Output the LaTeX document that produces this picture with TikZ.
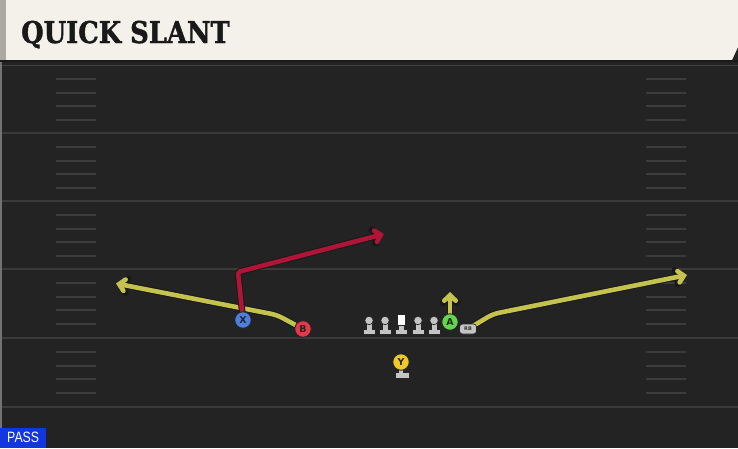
\documentclass[tikz,border=0pt]{standalone}
\usepackage{fontspec}
\setmainfont{DejaVu Sans}
\newfontfamily\titlefont{DejaVu Serif}[BoldFeatures={FakeBold=1.5}]
\newfontfamily\passfont{Liberation Sans}
\usetikzlibrary{arrows.meta}
\definecolor{field}{HTML}{232323}
\definecolor{cream}{HTML}{F4F1EA}
\definecolor{headgray}{HTML}{A9A9A2}
\definecolor{yardc}{HTML}{3A3A3A}
\definecolor{hashc}{HTML}{3C3C3C}
\definecolor{routey}{HTML}{C6C24E}
\definecolor{router}{HTML}{B01436}
\definecolor{xblue}{HTML}{4C7FE0}
\definecolor{bred}{HTML}{E23A48}
\definecolor{agreen}{HTML}{62D64C}
\definecolor{yyellow}{HTML}{F0C82A}
\definecolor{lmgray}{HTML}{C4C4C4}
\definecolor{passblue}{HTML}{1236E0}
\pgfdeclarelayer{bg}
\pgfdeclarelayer{routes}
\pgfsetlayers{bg,routes,main}
\tikzset{
  yardline/.style={draw=yardc, line width=1.6pt},
  hashline/.style={draw=hashc, line width=1.3pt},
  player/.style={circle, minimum size=16.5pt, inner sep=0pt, draw=black!85, line width=0.9pt,
    font=\bfseries\fontsize{9.5}{9.5}\selectfont, text=black!85},
  lmhead/.style={circle, minimum size=8.5pt, inner sep=0pt, fill=lmgray, draw=black!85, line width=0.7pt},
  lmbase/.style={fill=lmgray, draw=black!85, line width=0.6pt},
  routeout/.style={draw=black!90, line width=6.6pt, line cap=round, line join=round,
    -{Straight Barb[length=6.5pt,width=14pt,line cap=round]}},
  routeyel/.style={draw=routey, line width=4.6pt, line cap=round, line join=round,
    -{Straight Barb[length=5.5pt,width=11.5pt,line cap=round]}},
  routered/.style={draw=router, line width=4.6pt, line cap=round, line join=round,
    -{Straight Barb[length=5.5pt,width=11.5pt,line cap=round]}},
}
\begin{document}
\begin{tikzpicture}[x=1pt,y=-1pt]
\useasboundingbox (0,0) rectangle (738,448);
\begin{pgfonlayer}{bg}
\fill[field] (0,0) rectangle (738,448);
\fill[black!55] (0,62) rectangle (2,448);
% header
\fill[headgray] (0,0) rectangle (7,61);
\fill[cream] (6,0) -- (738,0) -- (738,47) -- (732,60) -- (6,60) -- cycle;
\draw[black!90, line width=1.5pt] (0,61) -- (738,61);
\draw[draw=black!75!white, line width=1pt] (2,65) -- (738,65);
% yard lines
\foreach \y in {133,201,269,338,407} \draw[yardline] (2,\y) -- (738,\y);
% hashes
\foreach \s in {65,133,201,269,338} {
  \foreach \o in {14,28,41,55} {
    \draw[hashline] (56,\s+\o) -- (96,\s+\o);
    \draw[hashline] (646,\s+\o) -- (686,\s+\o);
  }
}
\end{pgfonlayer}
\node[anchor=base west, inner sep=0pt, text=black!90] (title) at (21,43)
  {\scalebox{0.86}[1]{\titlefont\bfseries\fontsize{30}{30}\selectfont QUICK SLANT}};
% PASS label
\node[fill=passblue, anchor=south west, minimum width=46pt, minimum height=20pt, inner sep=0pt,
  text=white, font=\passfont\fontsize{15}{15}\selectfont] (pass) at (0,448) {\scalebox{0.82}[1]{PASS}};

% players
\node[player, fill=xblue] (X) at (243,320) {X};
\node[player, fill=bred] (B) at (303,329) {B};
\node[player, fill=agreen] (A) at (450,322) {A};
% Y with stand
\fill[lmgray, draw=black!85, line width=0.6pt] (395,372) rectangle (409,378);
\fill[lmgray] (399,367) rectangle (403,373);
\node[player, fill=yyellow] (Y) at (401,362) {Y};
% RB
\node[fill=lmgray, draw=black!85, line width=0.7pt, rounded corners=3pt, minimum width=17pt, minimum height=10pt,
  inner sep=0pt, font=\bfseries\fontsize{5}{5}\selectfont, text=black!80] (RB) at (468,329) {RB};
% linemen
\foreach \nm/\x in {lt/369,lg/385,rg/418,rt/434} {
  \path[lmbase] (\x-6,329) rectangle (\x+6,334.5);
  \fill[lmgray] (\x-2.5,322) rectangle (\x+2.5,329.5);
  \node[lmhead] (\nm) at (\x,320.5) {};
}
\path[lmbase] (395.5,329) rectangle (407.5,334.5);
\fill[lmgray] (399,324) rectangle (404,329.5);
\node[fill=white, draw=black!85, line width=0.7pt, minimum width=8.5pt, minimum height=11pt, inner sep=0pt] (C) at (401.5,320) {};

% route points
\coordinate (bk) at (277,315);
\coordinate (bend) at (116,283.5);
\coordinate (xk) at (238,272);
\coordinate (xend) at (384,234);
\coordinate (aend) at (450,292);
\coordinate (rk) at (493,314);
\coordinate (rend) at (687,275);

\begin{pgfonlayer}{routes}
  \foreach \st in {routeout,routeyel} {
    \draw[\st, rounded corners=6pt] (B.center) -- (bk) -- (bend);
    \draw[\st] (A.center) -- (aend);
    \draw[\st, rounded corners=6pt] (RB.center) -- (rk) -- (rend);
  }
  \draw[routeout, rounded corners=2pt] (X.center) -- (xk) -- (xend);
  \draw[routered, rounded corners=2pt] (X.center) -- (xk) -- (xend);
\end{pgfonlayer}
\end{tikzpicture}
\end{document}
